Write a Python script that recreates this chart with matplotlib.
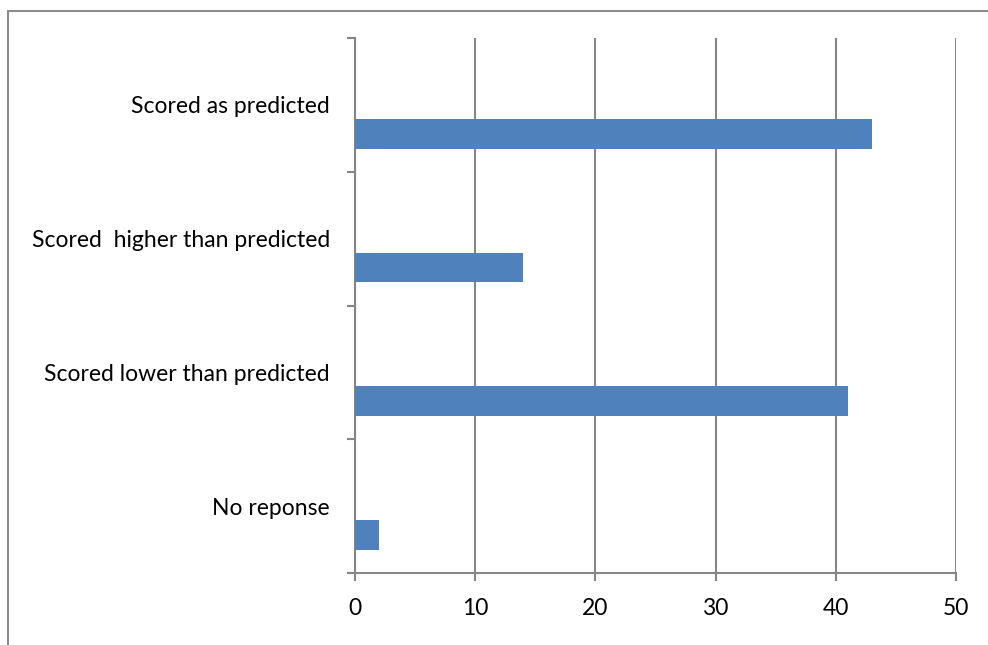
import matplotlib
matplotlib.use("Agg")
import matplotlib.pyplot as plt
from matplotlib.patches import Rectangle
import numpy as np

categories = ["Scored as predicted", "Scored  higher than predicted",
              "Scored lower than predicted", "No reponse"]
values = [43, 14, 41, 2]
xticks = [0, 10, 20, 30, 40, 50]

plt.rcParams['font.family'] = ['Lato', 'DejaVu Sans']

W, H = 988, 645
fig = plt.figure(figsize=(W/100, H/100), dpi=100)
fig.patches.append(Rectangle((8/W, -0.2), 2, 1.2 - 11/H, transform=fig.transFigure,
                             fill=False, edgecolor='#8c8c8c', linewidth=1.5))
ax = fig.add_axes([355/W, 1 - 573/H, (956-355)/W, (573-38)/H])

n = len(categories)
ypos = np.arange(n)[::-1]
ax.barh(ypos - 0.216, values, height=0.224, color='#4F81BD', zorder=3)

ax.set_xlim(0, 50)
ax.set_ylim(-0.5, n - 0.5)
ax.set_xticks(xticks)
ax.set_xticklabels([str(t) for t in xticks], fontsize=16.5)
ax.xaxis.grid(True, color='#868686', linewidth=1.5, zorder=0)
ax.tick_params(axis='x', length=6, width=1.5, color='#868686', pad=12)

ax.set_yticks(ypos)
ax.set_yticklabels(categories, fontsize=16.5)
ax.tick_params(axis='y', which='major', length=0, pad=18)
ax.set_yticks(np.arange(-0.5, n, 1.0), minor=True)
ax.tick_params(axis='y', which='minor', length=6, width=1.5, color='#868686')

for s in ['top', 'right']:
    ax.spines[s].set_visible(False)
for s in ['left', 'bottom']:
    ax.spines[s].set_color('#868686')
    ax.spines[s].set_linewidth(1.5)

fig.savefig("out.png", dpi=100)
